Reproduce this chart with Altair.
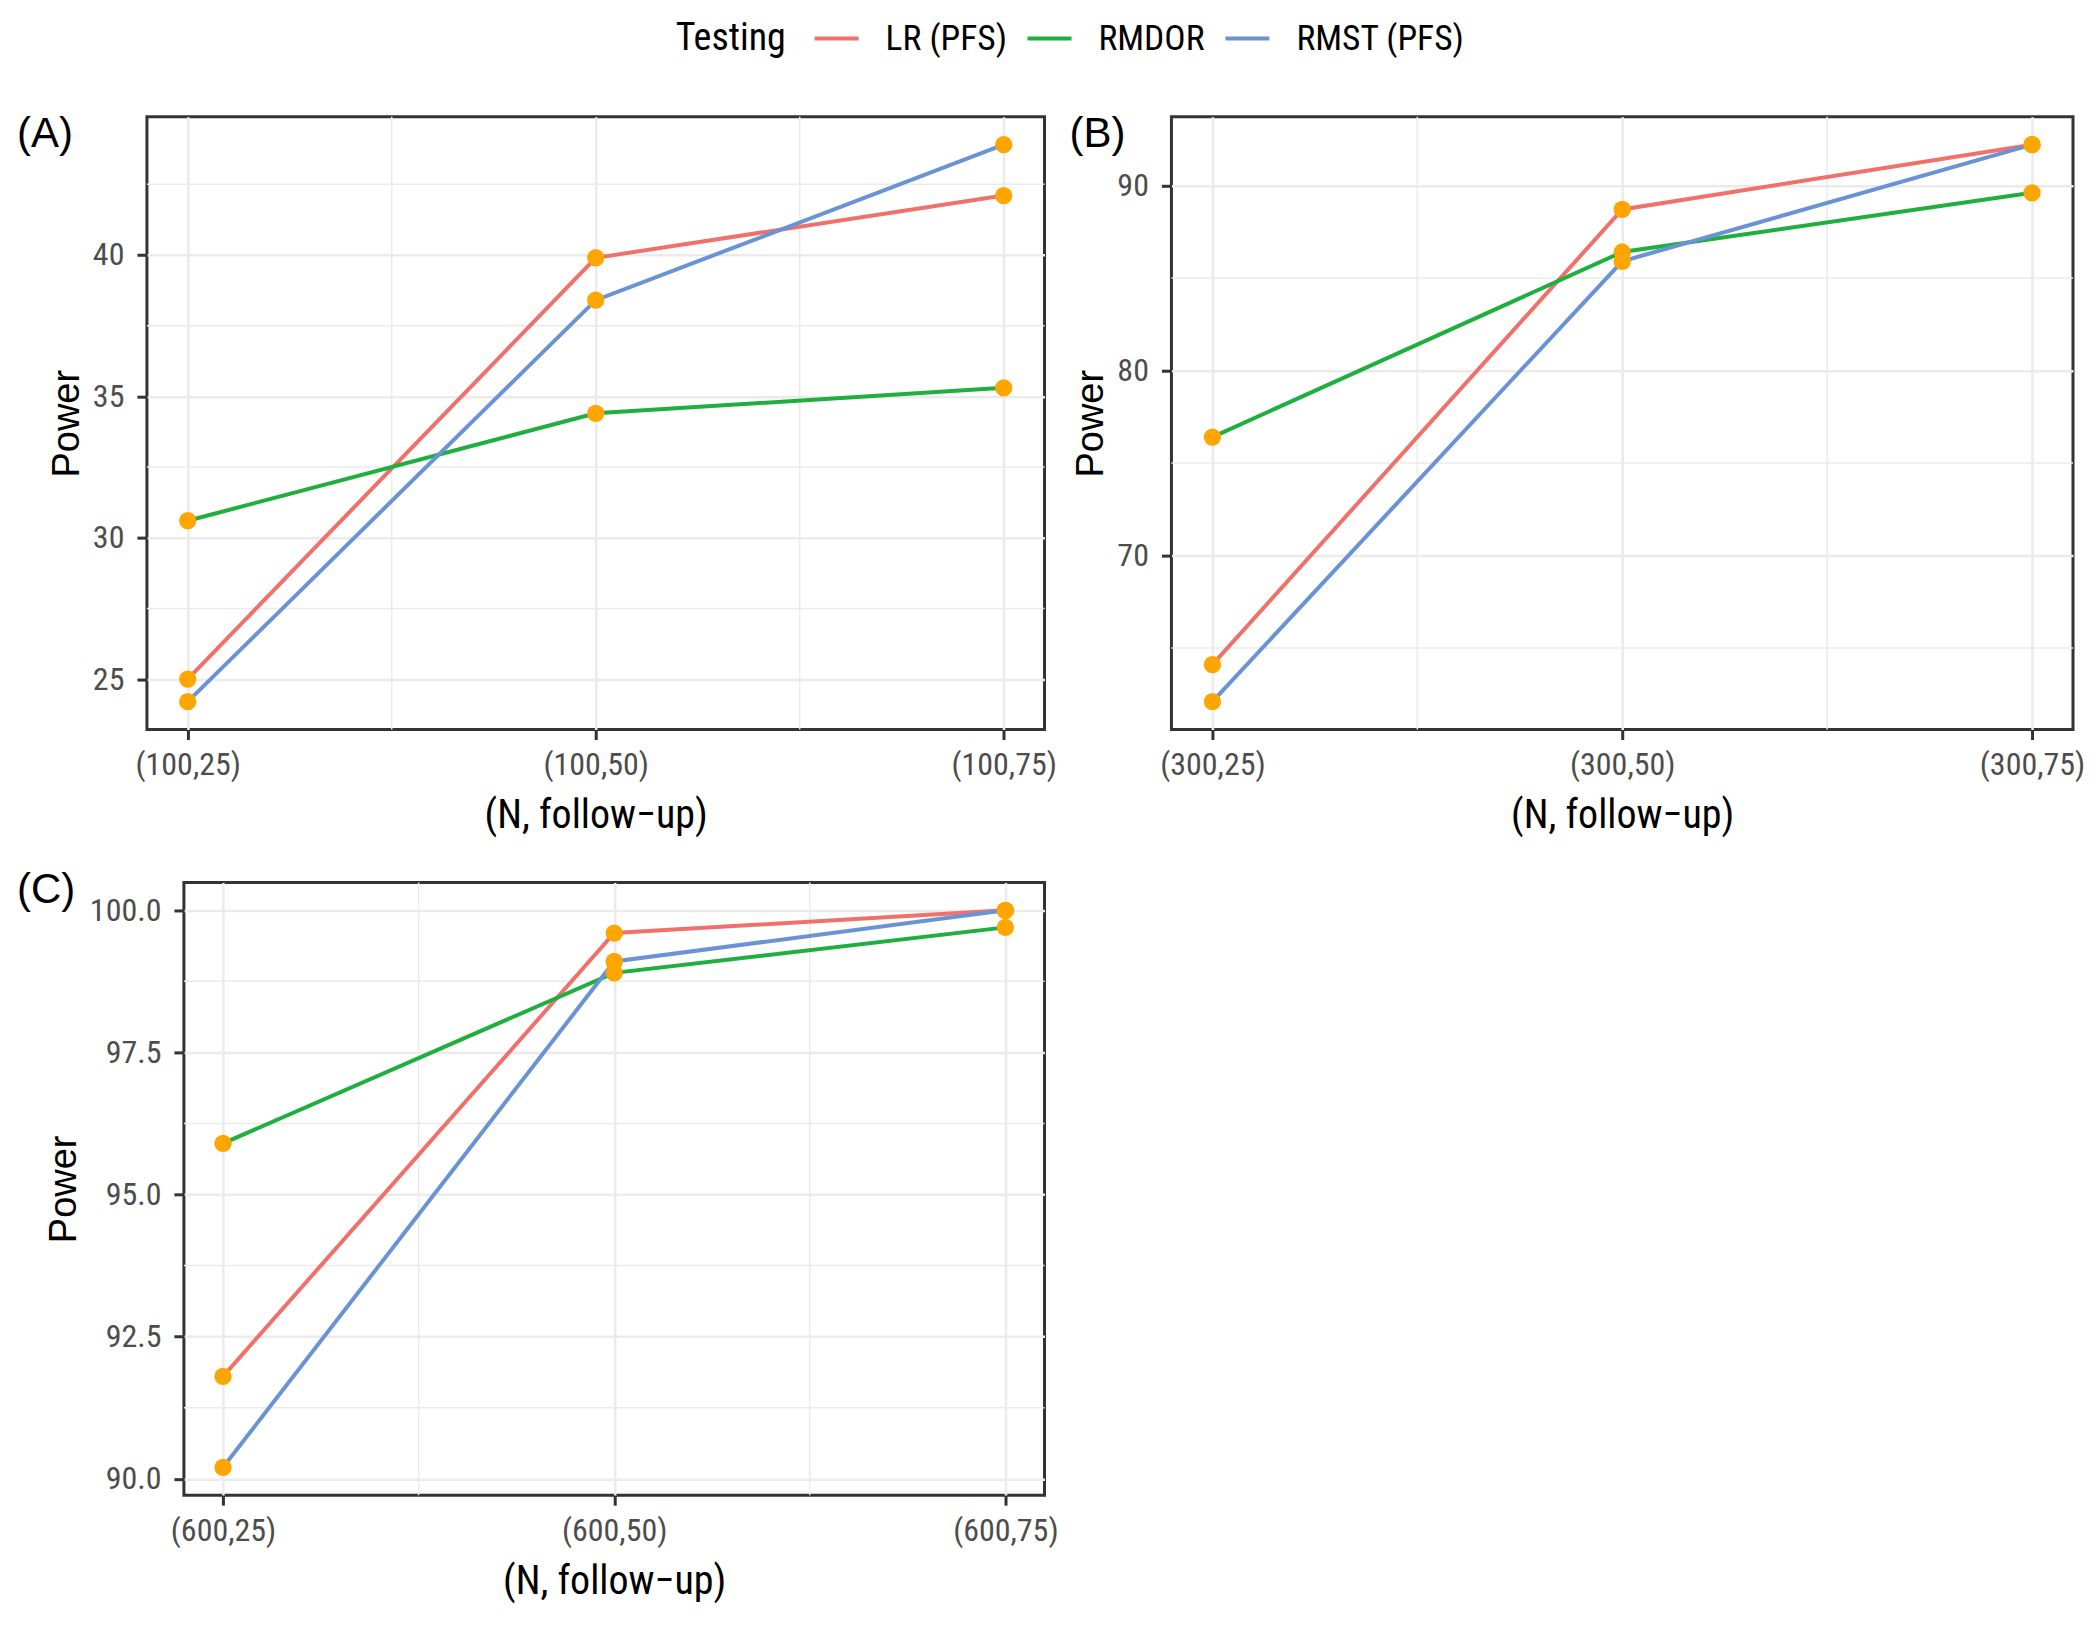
import altair as alt
import pandas as pd

# ---------------- data ----------------
methods = ["LR (PFS)", "RMDOR", "RMST (PFS)"]
colors = ["#F0716A", "#1FAF3E", "#6A93D6"]
legend_title = "Testing"

cats_A = ["(100,25)", "(100,50)", "(100,75)"]
A_LR = [25.0, 39.9, 42.1]
A_RMDOR = [30.6, 34.4, 35.3]
A_RMST = [24.2, 38.4, 43.9]
A_ticks = [25, 30, 35, 40]
A_minor = [27.5, 32.5, 37.5, 42.5]

cats_B = ["(300,25)", "(300,50)", "(300,75)"]
B_LR = [64.1, 88.7, 92.2]
B_RMDOR = [76.4, 86.4, 89.6]
B_RMST = [62.1, 85.9, 92.2]
B_ticks = [70, 80, 90]
B_minor = [65, 75, 85]

cats_C = ["(600,25)", "(600,50)", "(600,75)"]
C_LR = [91.8, 99.6, 100.0]
C_RMDOR = [95.9, 98.9, 99.7]
C_RMST = [90.2, 99.1, 100.0]
C_ticks = [90.0, 92.5, 95.0, 97.5, 100.0]
C_minor = [91.25, 93.75, 96.25, 98.75]

x_pos = [1, 2, 3]
x_minor = [1.5, 2.5]

NARROW = "Roboto Condensed"
REG = "Liberation Sans"

legend = alt.Legend(
    orient="none", legendX=666, legendY=-102.5, direction="horizontal",
    title=None, symbolType="stroke",
    symbolSize=1936, symbolStrokeWidth=4, labelOffset=25, columnPadding=12,
    labelFont=NARROW, labelFontSize=35.5, labelColor="black", labelLimit=500,
)


def panel(cats, lr, rmdor, rmst, ticks, minor, fmt, label, lx, ly, width, height, with_title=False):
    rows = []
    for m, vals in zip(methods, [lr, rmdor, rmst]):
        for p, c, v in zip(x_pos, cats, vals):
            rows.append({"pos": p, "cat": c, "Testing": m, "Power": v})
    df = pd.DataFrame(rows)
    allv = lr + rmdor + rmst
    span = max(allv) - min(allv)
    lo, hi = min(allv) - 0.05 * span, max(allv) + 0.05 * span
    label_expr = "[" + ",".join("'%s'" % c for c in cats) + "][datum.value-1]"

    xenc = alt.X("pos:Q", scale=alt.Scale(domain=[0.9, 3.1], nice=False, zero=False),
                 axis=alt.Axis(values=x_pos, labelExpr=label_expr, title="(N, follow\u2212up)"))
    yenc = alt.Y("Power:Q", scale=alt.Scale(domain=[lo, hi], nice=False, zero=False),
                 axis=alt.Axis(values=ticks, format=fmt, title="Power"))

    mx = alt.Chart(pd.DataFrame({"pos": x_minor})).mark_rule(
        color="#EBEBEB", strokeWidth=1.5).encode(x="pos:Q")
    my = alt.Chart(pd.DataFrame({"Power": minor})).mark_rule(
        color="#EBEBEB", strokeWidth=1.5).encode(y="Power:Q")
    lines = alt.Chart(df).mark_line(strokeWidth=4).encode(
        x=xenc, y=yenc,
        color=alt.Color("Testing:N", scale=alt.Scale(domain=methods, range=colors), legend=legend),
    )
    pts = alt.Chart(df).mark_circle(color="#FFA500", size=300, opacity=1).encode(
        x="pos:Q", y="Power:Q")
    lab = alt.Chart(pd.DataFrame({"t": [label]})).mark_text(
        align="left", baseline="alphabetic", fontSize=42, font=REG, color="black"
    ).encode(x=alt.value(lx), y=alt.value(ly), text="t:N")
    layers = [mx, my, lines, pts, lab]
    if with_title:
        layers.append(alt.Chart(pd.DataFrame({"t": [legend_title]})).mark_text(
            align="left", baseline="alphabetic", fontSize=38, font=NARROW, color="black"
        ).encode(x=alt.value(529), y=alt.value(-66.5), text="t:N"))
    return alt.layer(*layers).properties(width=width, height=height)


pA = panel(cats_A, A_LR, A_RMDOR, A_RMST, A_ticks, A_minor, "d", "(A)", -130, 30, 898, 613, with_title=True)
pB = panel(cats_B, B_LR, B_RMDOR, B_RMST, B_ticks, B_minor, "d", "(B)", -102, 30, 902, 613)
pC = panel(cats_C, C_LR, C_RMDOR, C_RMST, C_ticks, C_minor, ".1f", "(C)", -167, 21, 861, 613)

spacer = alt.Chart(pd.DataFrame({"pos": [0]})).mark_point(opacity=0).encode(
    x=alt.value(0), y=alt.value(0)
).properties(width=17, height=613, view=alt.ViewBackground(stroke="transparent"))

top_row = alt.hconcat(pA, pB, spacing=127, bounds="flush")
bottom_row = alt.hconcat(spacer, pC, spacing=20, bounds="flush")

chart = alt.vconcat(top_row, bottom_row, spacing=30).properties(
    padding={"left": 7, "top": 5.5, "right": 5, "bottom": 5}
).configure_view(
    stroke="#333333", strokeWidth=3
).configure_axis(
    grid=True, gridColor="#EBEBEB", gridWidth=2.5, domain=False,
    tickColor="#333333", tickWidth=3, tickSize=10,
    labelColor="#4D4D4D", labelFont=NARROW, labelFontSize=32,
    titleColor="black", titleFontWeight="normal",
).configure_axisX(
    labelPadding=10, titlePadding=15, titleFont=NARROW, titleFontSize=40,
).configure_axisY(
    labelPadding=13, titlePadding=6, titleFont=REG, titleFontSize=38,
)

chart.save("out.html", embed_options={"renderer": "svg", "actions": False})
